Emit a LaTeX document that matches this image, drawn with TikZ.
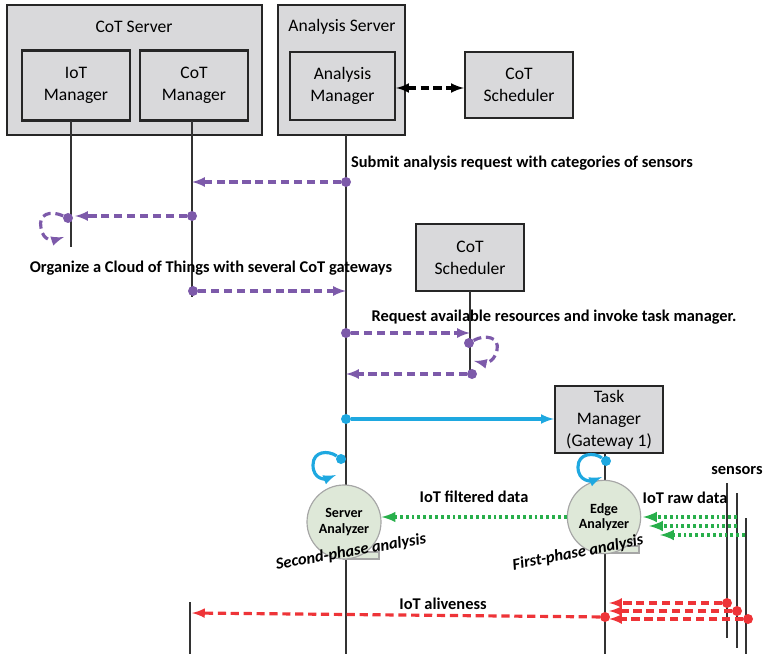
\documentclass[tikz,border=0pt]{standalone}
\usepackage{fontspec}
\setmainfont{Carlito}
\usepackage{tikz}
\usetikzlibrary{arrows}
\usetikzlibrary{calc}
\definecolor{boxgray}{RGB}{217,217,219}
\definecolor{anagreen}{RGB}{222,232,216}
\definecolor{msgpurple}{RGB}{125,90,170}
\definecolor{taskcyan}{RGB}{30,168,224}
\definecolor{datagreen}{RGB}{40,175,75}
\definecolor{alivered}{RGB}{238,52,56}
\tikzstyle{server} = [rectangle, draw = black!85, line width=2pt, fill = boxgray, minimum height=3.9cm]
\tikzstyle{box} = [rectangle, draw = black!85, line width=2pt, fill = boxgray, minimum width = 3.24cm, minimum height=2.1cm, align=center, font=\fontsize{15}{18.7}\selectfont]
\tikzstyle{analyzer} = [circle, draw = black!35, line width=1pt, fill = anagreen, minimum size=2.2cm, inner sep=0pt, align=center, font=\fontsize{12}{13}\selectfont\bfseries]
\tikzstyle{lifeline} = [draw = black!80, line width=1.1pt]
\tikzstyle{dot} = [circle, inner sep=0pt, minimum size=0.3cm]
\tikzstyle{lbl} = [font=\fontsize{14}{17}\selectfont\bfseries]
\tikzstyle{phase} = [font=\fontsize{14}{17}\selectfont\bfseries\itshape]
\tikzstyle{msg} = [->, >=latex, line width=2.7pt, dash pattern=on 7pt off 4pt, msgpurple]
\tikzstyle{task} = [->, >=latex, line width=2.7pt, taskcyan]
\tikzstyle{data} = [->, >=latex, line width=3pt, dash pattern=on 2.5pt off 2.5pt, datagreen]
\tikzstyle{alive} = [->, >=latex, line width=2.7pt, dash pattern=on 7pt off 4pt, alivered]
\begin{document}
\begin{tikzpicture}[x=0.03cm, y=-0.03cm]
	\useasboundingbox (0,0) rectangle (763,654);
	% servers and their managers
	\node (cotserver) [server, minimum width=7.65cm] at (134.5,70) {};
	\node (cottitle) [font=\fontsize{15}{18}\selectfont] at (134,27) {CoT Server};
	\node (iotm) [box] at (76,85.5) {IoT\\Manager};
	\node (cotm) [box] at (194,85.5) {CoT\\Manager};
	\node (anaserver) [server, minimum width=3.81cm] at (341.5,70) {};
	\node (anatitle) [font=\fontsize{15}{18}\selectfont] at (342,27) {Analysis Server};
	\node (anam) [box, minimum width=3.15cm, minimum height=2.04cm] at (342.5,86) {Analysis\\Manager};
	\node (sched) [box, minimum height=1.98cm] at (519,85) {CoT\\Scheduler};
	\draw [<->, >=latex, line width=2.7pt, dash pattern=on 7pt off 4pt] (anam.east |- 0,88) -- (sched.west |- 0,88);
	\node (sched2) [box, minimum height=2.01cm] at (470,257.5) {CoT\\Scheduler};
	\node (taskm) [box, minimum height=1.95cm] at (609,419.5) {Task\\Manager\\(Gateway 1)};

	% lifelines
	\coordinate (iotl) at (71,121);
	\coordinate (cotl) at (192,121);
	\coordinate (anal) at (346,135);
	\coordinate (schl) at (470,291);
	\coordinate (taskl) at (605,452);
	\draw [lifeline] (iotl) -- (71,247);
	\draw [lifeline] (cotl) -- (192,297);
	\draw [lifeline] (190,602) -- (190,654);
	\draw [lifeline] (anal) -- (346,654);
	\draw [lifeline] (schl) -- (470,376);
	\draw [lifeline] (taskl) -- (605,654);
	\draw [lifeline] (727,483) -- (727,638);
	\draw [lifeline] (737,493) -- (737,648);
	\draw [lifeline] (746,518) -- (746,654);

	% analyzers (tape symbol)
	\fill [anagreen, draw = black!35, line width=1pt] (344,559) -- (379,559) -- (379,552) -- (344,552) -- cycle;
	\node (sa) [analyzer, minimum size=2.22cm] at (344,522) {Server\\Analyzer};
	\fill [anagreen, draw = black!35, line width=1pt] (604,553) -- (639,553) -- (639,546) -- (604,546) -- cycle;
	\node (ea) [analyzer] at (604,517) {Edge\\Analyzer};

	% analysis request
	\node (submit) [lbl, anchor=west] at (347,163) {Submit analysis request with categories of sensors};
	\node (p1) [dot, fill=msgpurple] at (346,182) {};
	\draw [msg] (p1) -- (p1 -| cotl);
	\node (p2) [dot, fill=msgpurple] at (192,216) {};
	\draw [msg] (p2) -- (75,216);
	\node (p2l) [dot, fill=msgpurple] at (68,218) {};
	\draw [msg] (p2l) .. controls (50,210) and (38,214) .. (41,228) .. controls (43,242) and (55,240) .. (64,237);
	\node (organize) [lbl] at (211,268) {Organize a Cloud of Things with several CoT gateways};
	\node (p3) [dot, fill=msgpurple] at (193,291) {};
	\draw [msg] (p3) -- (p3 -| anal);

	% scheduling
	\node (request) [lbl] at (554,317) {Request available resources and invoke task manager.};
	\node (p4) [dot, fill=msgpurple] at (346,333) {};
	\draw [msg] (p4) -- (p4 -| schl);
	\node (p5) [dot, fill=msgpurple] at (469,343) {};
	\draw [msg] (p5) .. controls (485,334) and (500,337) .. (497,350) .. controls (494,364) and (483,363) .. (474,361);
	\node (p6) [dot, fill=msgpurple] at (472,374) {};
	\draw [msg] (p6) -- (p6 -| anal);

	% task manager
	\node (c1) [dot, fill=taskcyan] at (346,419) {};
	\draw [task] (c1) -- (c1 -| taskm.west);
	\node (c2) [dot, fill=taskcyan] at (341,459) {};
	\draw [task] (c2) .. controls (328,450) and (313,451) .. (313,465) .. controls (313,480) and (326,479) .. (336,475);
	\node (c3) [dot, fill=taskcyan] at (606,461) {};
	\draw [task] (c3) .. controls (594,452) and (578,453) .. (578,467) .. controls (578,482) and (592,481) .. (602,477);

	% data flow
	\node (filtered) [lbl] at (474,497) {IoT filtered data};
	\draw [data] (ea.west) -- (ea.west -| sa.east);
	\node (raw) [lbl] at (685,498) {IoT raw data};
	\node (sensors) [lbl] at (737,471) {sensors};
	\draw [data] (737,517) -- (643,517);
	\draw [data] (737,526) -- (649,526);
	\draw [data] (745,535) -- (660,535);
	\node (second) [phase, rotate=10] at (351,552) {Second-phase analysis};
	\node (first) [phase, rotate=11] at (578,553) {First-phase analysis};

	% aliveness
	\node (aliveness) [lbl] at (443,604) {IoT aliveness};
	\node (r0) [dot, fill=alivered] at (605,617) {};
	\draw [alive] (r0) -- (192,613);
	\node (r1) [dot, fill=alivered] at (727,603) {};
	\draw [alive] (r1) -- (609,603);
	\node (r2) [dot, fill=alivered] at (737,611) {};
	\draw [alive] (r2) -- (609,611);
	\node (r3) [dot, fill=alivered] at (748,619) {};
	\draw [alive] (r3) -- (609,619);
\end{tikzpicture}
\end{document}
